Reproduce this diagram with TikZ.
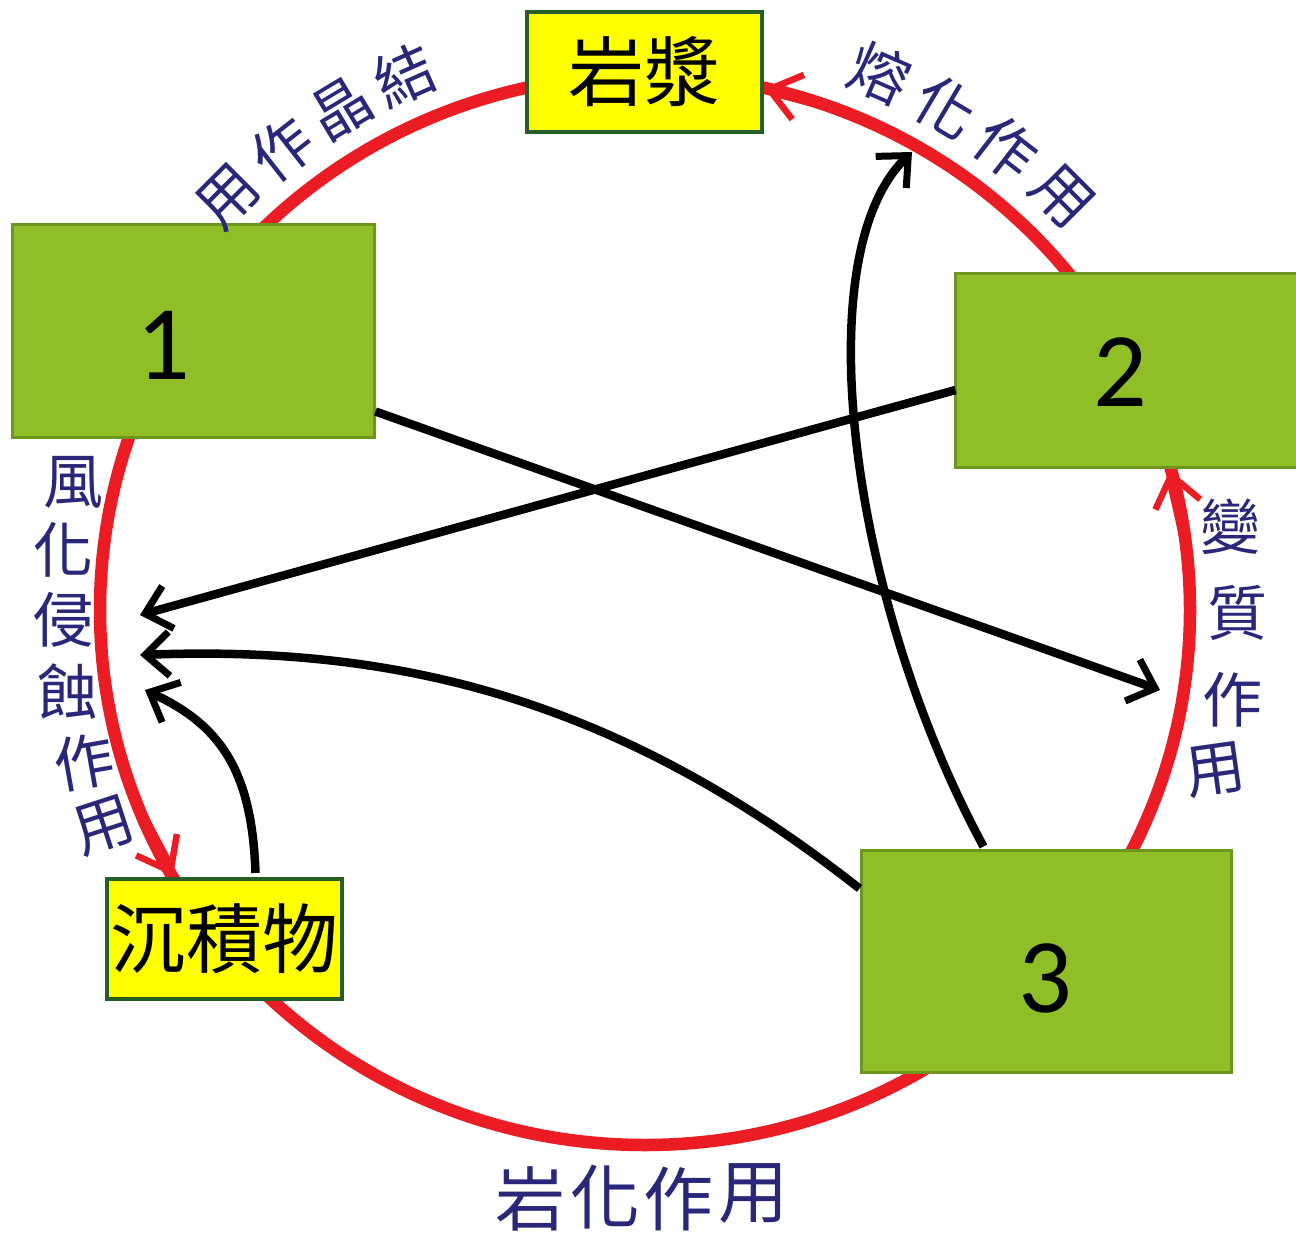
\documentclass[tikz,border=0pt]{standalone}
\usepackage{fontspec}
\newfontfamily\cjk{Noto Sans CJK TC}
\newfontfamily\numfont{Carlito}
\usetikzlibrary{arrows.meta,calc}
\definecolor{ringred}{RGB}{236,28,36}
\definecolor{boxgreen}{RGB}{143,190,38}
\definecolor{boxgreenedge}{RGB}{110,150,30}
\definecolor{magyellow}{RGB}{255,255,0}
\definecolor{magedge}{RGB}{38,94,38}
\definecolor{labelblue}{RGB}{42,38,122}
\tikzset{
  rockbox/.style={draw=boxgreenedge, fill=boxgreen, line width=3pt, inner sep=0pt},
  yellowbox/.style={draw=magedge, fill=magyellow, line width=4pt, inner sep=0pt, font=\cjk\fontsize{76}{76}\selectfont},
  numtext/.style={font=\numfont\fontsize{106}{106}\selectfont, inner sep=0pt},
  arclabel/.style={font=\cjk\fontsize{60}{60}\selectfont, text=labelblue, inner sep=0pt},
  blackarrow/.style={line width=8.5pt, -{Straight Barb[length=24pt,width=44pt,line width=7pt]}},
  redtip/.style={draw=ringred, line width=12pt, -{Straight Barb[length=30pt,width=46pt,line width=6.5pt]}},
}
\begin{document}
\begin{tikzpicture}[x=1pt,y=-1pt]
\useasboundingbox (0,0) rectangle (1296,1237);
% ring
\draw[ringred, line width=12.5pt] (645,610) ellipse [x radius=545, y radius=535];
% red arrow tips along ring
\coordinate (rA0) at (813,101);
\coordinate (rA1) at (764,88);
\coordinate (rB0) at (143,819);
\coordinate (rB1) at (173,876);
\coordinate (rC0) at (1185,536);
\coordinate (rC1) at (1170,470);
\draw[redtip] (rA0) -- (rA1);
\draw[redtip] (rB0) -- (rB1);
\draw[redtip] (rC0) -- (rC1);
% boxes
\node[yellowbox, minimum width=235pt, minimum height=120pt] (mag) at (644.5,72) {岩漿};
\node[rockbox, minimum width=362pt, minimum height=213pt] (b1) at (193,330.5) {};
\node[rockbox, minimum width=345pt, minimum height=194pt] (b2) at (1127.5,370) {};
\node[rockbox, minimum width=370pt, minimum height=222pt] (b3) at (1046,961) {};
\node[yellowbox, minimum width=235pt, minimum height=120pt] (sed) at (224.5,939) {沉積物};
\node[numtext] (t1) at (163,345) {1};
\node[numtext] (t2) at (1120,372) {2};
\node[numtext] (t3) at (1045,978) {3};
% black arrows
\coordinate (e1) at (1160,690);
\coordinate (e2) at (140,615);
\coordinate (e3) at (140,655);
\coordinate (e4) at (912,152);
\coordinate (e5) at (145,690);
\draw[blackarrow] ($(b1.south east)+(0,-27)$) -- (e1);
\draw[blackarrow] ($(b2.west)+(2,20)$) -- (e2);
\draw[blackarrow] ($(b3.north west)+(0,40)$) .. controls (620,700) and (400,645) .. (e3);
\draw[blackarrow] ($(b3.north west)+(124,-2)$) .. controls (850,600) and (805,255) .. (e4);
\draw[blackarrow] ($(sed.north)+(31,-4)$) .. controls (252,770) and (220,725) .. (e5);
% arc labels
\foreach \ch/\a [count=\i] in {用/135,作/128,晶/121,結/114}
  \node[arclabel, rotate=\a-90] (cry\i) at ({645+590*cos(\a)},{610-585*sin(\a)}) {\ch};
\foreach \ch/\a [count=\i] in {熔/66.5,化/59.3,作/52.2,用/45}
  \node[arclabel, rotate=\a-90] (mel\i) at ({645+590*cos(\a)},{610-585*sin(\a)}) {\ch};
\node[arclabel] (w1) at (73,482) {風};
\node[arclabel] (w2) at (64,550) {化};
\node[arclabel] (w3) at (63,620) {侵};
\node[arclabel] (w4) at (67,692) {蝕};
\node[arclabel, rotate=10] (w5) at (84,762) {作};
\node[arclabel, rotate=18] (w6) at (104,826) {用};
\node[arclabel] (m1) at (1230,527) {變};
\node[arclabel] (m2) at (1237,613) {質};
\node[arclabel] (m3) at (1232,700) {作};
\node[arclabel, rotate=8] (m4) at (1215,770) {用};
\node[arclabel, font=\cjk\fontsize{70}{70}\selectfont] (l1) at (530,1199) {岩};
\node[arclabel, font=\cjk\fontsize{70}{70}\selectfont] (l2) at (605,1197) {化};
\node[arclabel, font=\cjk\fontsize{70}{70}\selectfont] (l3) at (678,1199) {作};
\node[arclabel, font=\cjk\fontsize{70}{70}\selectfont] (l4) at (753,1194) {用};
\end{tikzpicture}
\end{document}
